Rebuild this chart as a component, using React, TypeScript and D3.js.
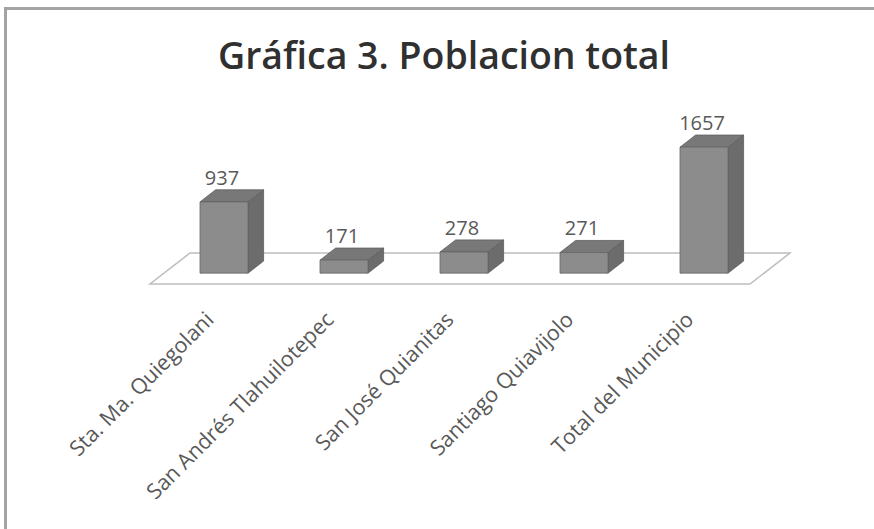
import React from "react";
import * as d3 from "d3";

const title = "Gráfica 3. Poblacion total";
const categories = [
  "Sta. Ma. Quiegolani",
  "San Andrés Tlahuilotepec",
  "San José Quianitas",
  "Santiago Quiavijolo",
  "Total del Municipio",
];
const values = [937, 171, 278, 271, 1657];

const W = 874;
const H = 529;

// floor geometry (front edge + depth vector)
const floorLeft = 150;
const floorRight = 750;
const floorFrontY = 284;
const depthDX = 40;
const depthDY = -31;
const barZ0 = 0.35;
const barZ1 = 0.74;

export default function App() {
  const x = d3
    .scaleBand<string>()
    .domain(categories)
    .range([floorLeft, floorRight])
    .paddingInner(0.6)
    .paddingOuter(0.3);
  const h = d3.scaleLinear().domain([0, 1657]).range([0, 126]);

  const proj = (px: number, py: number, z: number): [number, number] => [
    px + z * depthDX,
    py + z * depthDY,
  ];
  const poly = (pts: [number, number][]) => pts.map((p) => p.join(",")).join(" ");

  const floor: [number, number][] = [
    proj(floorLeft, floorFrontY, 0),
    proj(floorRight, floorFrontY, 0),
    proj(floorRight, floorFrontY, 1),
    proj(floorLeft, floorFrontY, 1),
  ];

  const fontLabel = "'Open Sans', 'Liberation Sans', sans-serif";

  return (
    <svg
      width={W}
      height={H}
      style={{ position: "absolute", left: 0, top: 0, background: "#fff" }}
      xmlns="http://www.w3.org/2000/svg"
    >
      <rect x={0} y={0} width={W} height={H} fill="#ffffff" />
      {/* chart border (cut off at right/bottom) */}
      <rect x={5.5} y={8.5} width={W + 20} height={H + 20} fill="none" stroke="#a3a3a3" strokeWidth={3} />

      {/* title */}
      <text
        x={444}
        y={69}
        textAnchor="middle"
        fontFamily={fontLabel}
        fontWeight={600}
        fontSize={37}
        fill="#303030"
        textLength={452}
        lengthAdjust="spacingAndGlyphs"
      >
        {title}
      </text>

      {/* floor */}
      <polygon points={poly(floor)} fill="#ffffff" stroke="#bdbdbd" strokeWidth={1.5} />

      {/* bars */}
      {categories.map((c, i) => {
        const x0 = x(c)!;
        const x1 = x0 + x.bandwidth();
        const hh = h(values[i]);
        const yb = floorFrontY;
        const yt = floorFrontY - hh;
        const fBL = proj(x0, yb, barZ0);
        const fBR = proj(x1, yb, barZ0);
        const fTR = proj(x1, yt, barZ0);
        const fTL = proj(x0, yt, barZ0);
        const bBR = proj(x1, yb, barZ1);
        const bTR = proj(x1, yt, barZ1);
        const bTL = proj(x0, yt, barZ1);
        const cx = (fTL[0] + fTR[0]) / 2 - 2;
        return (
          <g key={c}>
            <polygon points={poly([fBR, bBR, bTR, fTR])} fill="#6c6c6c" stroke="#5e5e5e" strokeWidth={0.8} />
            <polygon points={poly([fTL, fTR, bTR, bTL])} fill="#787878" stroke="#5e5e5e" strokeWidth={0.8} />
            <polygon points={poly([fBL, fBR, fTR, fTL])} fill="#8c8c8c" stroke="#666" strokeWidth={0.8} />
            <text
              x={cx}
              y={bTL[1] - 5}
              textAnchor="middle"
              fontFamily={fontLabel}
              fontSize={20}
              fill="#595959"
            >
              {values[i]}
            </text>
          </g>
        );
      })}

      {/* category labels */}
      {categories.map((c) => {
        const cxFront = x(c)! + x.bandwidth() / 2 + barZ0 * depthDX;
        const ax = cxFront - 9;
        const ay = 321;
        return (
          <text
            key={c}
            transform={`translate(${ax},${ay}) rotate(-45)`}
            textAnchor="end"
            fontFamily={fontLabel}
            fontSize={21.5}
            fill="#595959"
          >
            {c}
          </text>
        );
      })}
    </svg>
  );
}
